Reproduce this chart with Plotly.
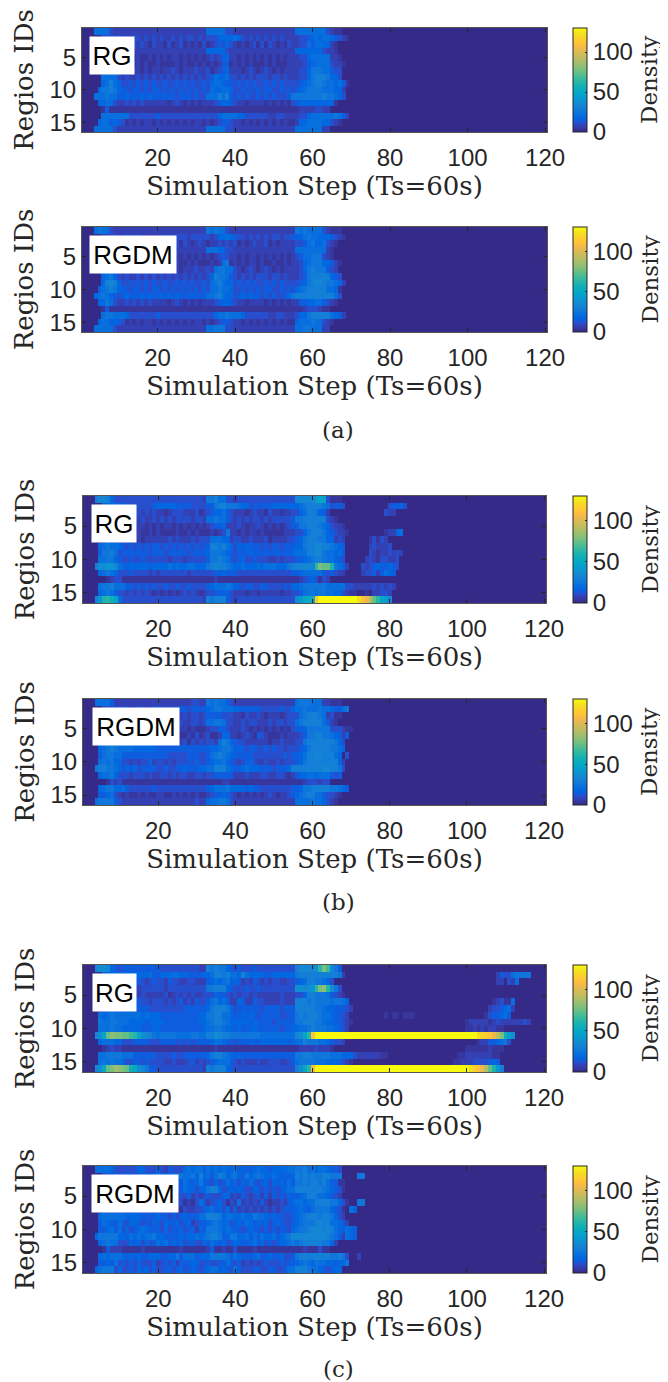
import plotly.graph_objects as go

W, H = 668, 1382
OFF = 8  # the page body holds the figure 8 px in from the window's corner

panel_names = ["RG", "RGDM", "RG", "RGDM", "RG", "RGDM"]
subfig_labels = ["(a)", "(b)", "(c)"]
x_ticks = [20, 40, 60, 80, 100, 120]
y_ticks = [5, 10, 15]
cbar_ticks = [0, 50, 100]
density_max = 130
level_count = 35

# Each row is a region, each character the density level of one simulation step
# (base-36 level, 0 = empty, z = full scale); steps past the end of a row are 0.
a_rg = [
 "0006666322 2222222222 2222222222 2266666332 2222222222 2222266666 6663211000",
 "0000033333 2323323232 3223232332 3233355556 5323232323 2322223345 6566543210",
 "0000022222 2313232132 2131231212 1312343532 1212313132 1213223364 6655210000",
 "0000022222 2222222222 2222222222 2255555322 2222222222 2222255555 5532210000",
 "0000012121 2121211212 1212212121 2123234522 1212121212 1212223356 6666221000",
 "0000011212 1211212112 1111212112 1212124412 1212111212 1112222345 6666322100",
 "0000022323 2212212122 1223212223 2231234522 2123212321 2122223357 7766433000",
 "0000066663 2322323232 3232323232 3234655633 2323233323 3232223357 8887553000",
 "0000056865 3343434343 3433434343 3435665443 4343433434 3433334567 8876656410",
 "0000577875 4434434344 3434343434 3436556653 3434343443 3434345677 7766655200",
 "0006667664 4544454544 4444344434 3366686843 4343343434 3334777777 7787765300",
 "0000556632 2323232222 2212321212 1222345543 2212222121 2121345555 5555510000",
 "0000014111 1111111111 1111111111 1111111111 1111111111 1111112222 3322000000",
 "0000066666 6633333334 3333333333 3333356666 5533333322 3322223356 6666676420",
 "0000566454 3121212212 1212121212 2121234432 2121212121 2121125566 6655321000",
 "0006666632 2222222222 2222222222 2266666332 2222222222 2222266666 6622000000",
]
a_rgdm = [
 "0006766322 2222222222 2222222222 2276766322 2222222222 2222276766 6632111000",
 "0000022332 2323322222 3232333233 3332355654 3323232323 3233445676 6555432100",
 "0000022222 2122321212 2121313212 3212232323 1212322312 1222233467 5563210000",
 "0000022222 2222222222 2222222222 2266655332 2222222222 2222266666 6662100000",
 "0000012121 2121221212 1221212121 2121234322 1212212121 2121234667 7732100000",
 "0000011212 1211212112 1111211212 1112126712 1212212112 1121223567 7755421000",
 "0000022323 2212212122 1223212223 2232677663 2123212321 2122223578 7774320000",
 "0000056753 2322323232 3232323232 3235877643 2323233323 3232223478 8888543000",
 "0000058985 3343434343 3433434343 3436786553 4343433434 3433334578 9987765200",
 "0000467875 4434434344 3434343434 3436676653 3434343443 3434356788 8886651000",
 "0005676543 4544454544 5454544454 4466786553 4545443434 3345788888 8888863000",
 "0000557632 2323232322 2212321212 1222345543 2212222121 2121224455 6643210000",
 "0000014111 1111111111 1111111111 1111111111 1111111111 1111111233 3211000000",
 "0000067766 6533333334 3333333333 3333566766 6533333322 3322235578 8888654200",
 "0000566454 3121212212 1212121212 2121234432 2121212121 2121156667 6632100000",
 "0006666632 2222222222 2222222222 2266777332 2222222222 2222266776 6622000000",
]
b_rg = [
 "0008998533 3333333333 3333333333 3277866332 3333333333 3333399999 cdd3111000",
 "0000055555 5333333345 5555444433 3344788777 6553444445 5555556788 8876344300 0000000003 44530",
 "0000022332 3323323232 2123332223 1234556432 2212322132 2122335688 7542000000 0000000032 2",
 "0000022322 2323232232 3232333323 3266766432 3232332323 3333477888 8883210000",
 "0000012121 2121221212 1221212121 2123445222 3212232121 2123447788 8765322100",
 "0000011212 1111211212 1111211212 1112123722 1212212111 1122233578 8875432210 0000000012 2560",
 "0000024423 2212212222 2232322232 3336665523 3223222312 2223345788 8775523200 0000131320",
 "0000567665 4343434344 3434343434 3448878653 5454443434 4344455788 9988765400 0000232223",
 "0000477863 4444444344 4344444344 4457776543 4445444444 4444566688 9976656400 0000321223 232",
 "0000667754 3343343333 3323332333 3347787643 4533433322 3233344567 8876654300 0002321332 23",
 "0008aabb96 5455555455 5565655665 5578988765 5655565666 5557899999 hlkkg76520 0032345445 43",
 "0000567653 3343333232 3333333233 3333445444 3333333333 3333445666 6643432200 0023342465 4",
 "0000001233 1111111111 1111111111 1111211111 1111111111 1111112345 3132000000",
 "0000677866 6443434343 3433433433 3345666765 4344334433 3343556777 7776666633 2222232323 2",
 "0000567643 3232323212 1212123232 1233445432 2212212222 2122334677 6776655321 1001022332",
 "0009bghfd6 3333333333 3333333333 3287888432 3333333333 33333abdef uzzzzzzzzz zxusokhdc9",
]
b_rgdm = [
 "0006666422 2222222222 2222222233 2276766432 2222222222 2222267776 6622111000",
 "0000033333 3322332334 3333344344 4456776665 5444443333 3433566766 6766544670",
 "0000022322 2211322323 2132223233 2344443332 2132232122 2123336788 8762311000",
 "0000022332 2232222322 3322232233 2366776332 2323322232 3323367888 8864210000",
 "0000012211 2121221212 1212122121 1123344322 2321212121 2121344577 7777333211",
 "0000011212 2121211222 1212111213 1231125522 1232143211 1212223477 8877654240",
 "0000022332 2212122122 2232123132 3233268754 3322222212 2322233788 8888875300",
 "0000567876 6665555554 4444444444 4445567764 5434433434 3323334578 8888776500",
 "0000467766 4444444444 4433333444 3346787654 4444333333 3343445688 9988865030",
 "0000676755 3323233523 3232333435 3345667543 2345322322 3233345788 8888885200",
 "0007887765 3545344443 3433445444 5566888654 4565554443 4445888888 8899887300",
 "0000566753 3323332322 3323233223 3233444442 2232223322 3321245566 5666434000",
 "0000001323 1111111111 1111111111 1111112211 1111111111 1111111233 3233000000",
 "0000567755 6433333343 3333333333 3345666755 5545443333 3333445778 8888776540",
 "0000445632 1211212112 2112121212 1123445432 1212121232 1223456788 6643321000",
 "0006777743 2222222222 2222222223 2256677632 2222222222 2222266667 6653210000",
]
Z = "zzzzzzzzzz"
c_rg = [
 "0009aa9543 4444444444 3333333333 2287877543 4333433333 3333389999 ahli974000",
 "0000055556 6655555644 5556655444 4556887866 5865555445 5555578888 8888887200 0000000000 0000000000 0000000000 0000000243 3677770000",
 "0000023334 3423432343 3243322332 2245656745 4232432323 3223345688 7765300000 0000000000 0000000000 0000000000 0000000220 3260000000",
 "0000023323 3323233333 3233333333 3377888543 3343343333 33333aa9ab hlmha73000",
 "0000023322 2222232222 2312323232 2333544323 2332322222 2322233588 7776432100",
 "0000034244 3423433233 3232342324 3346756422 5422433222 2322288878 7777677650 0000000000 0000000000 0000000000 0000001231 1600000000",
 "0000033434 4343444333 3333334444 4457888753 4444443444 4344488888 7765544432 0000000000 0000000000 0000000000 0000023345 6200000000",
 "0000656766 6666656555 4444444444 5577886654 4545434444 4334478788 8766544320 0000000010 1101110000 0000000000 0000134456 4000000000",
 "0000766776 6655554555 5444444444 5567887655 5554544443 4444477888 7765544321 0000000000 0000000000 0000000001 2222212322 2222320000",
 "0000666766 5555544455 4444444444 4566776554 5445544444 4344556678 7776654320 0000000000 0000000000 0000000001 1212122110",
 "0009adkmll kkihda9876 7777666677 6688a98877 7777776666 666669adhu " + Z + " " + Z + " " + Z + " " + Z + " zzxwvusplf ca00000000",
 "0000566655 3334444333 4444343434 4445665443 4445445555 5554566877 7665433200 0000000000 0000000000 0000000000 0012244567 3000000000",
 "0000012322 1111111111 1111111111 1111211111 1111111111 1111112222 3222100000 0000000000 0000000000 0000000001 1111121110",
 "0000667777 6664444443 3334334444 4457887654 5444444444 4444477887 7777666555 3222222110 0000000000 0000000112 2222221100",
 "0000676766 5334434333 3223222342 3234566643 2322232233 3223467777 6665554321 0000000000 0000000000 0000001122 2333345400",
 "0009aeklnm lkfea97443 3333333333 3287888543 3333333333 333338adht " + Z + " " + Z + " " + Z + " " + Z + " xvusokgb80",
]
c_rgdm = [
 "0006666533 3333553334 3243335656 6465656556 4544565545 5556677866 5665443000",
 "0000034353 4443444456 4456676675 8564687567 5475676556 5454587878 7788777000 0770000000",
 "0000032425 3545435335 3653546545 7543534645 3546434535 4546477878 8786441100",
 "0000023434 3343443432 3434346553 5578853454 5433543434 3456688888 8876543100",
 "0000033323 3242324322 3242133423 2343335523 2432342424 3435445688 7665432000",
 "0000021322 3232324232 1323131213 6423453132 6232324212 2324566566 8888775310 0770000000",
 "0000022333 2324232322 1314213223 3456453524 2323232323 2344456546 7777543106 5000000000",
 "0000566666 6555544445 4434345444 6688875665 5655766545 4433456788 8788753200",
 "0000465446 4355434354 3544534523 4456765534 5465454534 5433456777 8988665420",
 "0000445646 3534565444 3534453442 5477765654 4345443434 3443567789 9989865465 4000000000",
 "0005777775 5465656675 5444454556 5678874577 5564646556 4567999999 9998764265 4000000000",
 "0000567663 3354535346 5645453443 3546545345 5445645343 4556767888 8877520000",
 "0000014222 1111121111 1111121111 1124112113 1111211111 1111111211 1311000000",
 "0000565666 5454544555 4455746664 5557777646 5444564454 4533478888 8888778730 0200000000",
 "0000445463 4343533342 3434244455 3343344643 4232323433 3434456765 7665545570",
 "0005677735 3343545343 3443453454 3456645436 4333443344 3346688876 6543455000",
]
panels = [a_rg, a_rgdm, b_rg, b_rgdm, c_rg, c_rgdm]

parula = [
 (.2081,.1663,.5292),(.2116,.1898,.5777),(.2123,.2138,.6270),(.2081,.2386,.6771),(.1959,.2645,.7279),
 (.1707,.2919,.7792),(.1253,.3242,.8303),(.0591,.3598,.8683),(.0117,.3875,.8820),(.0060,.4086,.8828),
 (.0165,.4266,.8786),(.0329,.4430,.8720),(.0498,.4586,.8641),(.0629,.4737,.8554),(.0723,.4887,.8467),
 (.0779,.5040,.8384),(.0793,.5200,.8312),(.0749,.5375,.8263),(.0641,.5570,.8240),(.0488,.5772,.8228),
 (.0343,.5966,.8199),(.0265,.6137,.8135),(.0239,.6287,.8038),(.0231,.6418,.7913),(.0228,.6535,.7768),
 (.0267,.6642,.7607),(.0384,.6743,.7436),(.0590,.6838,.7254),(.0843,.6928,.7062),(.1133,.7015,.6859),
 (.1453,.7098,.6646),(.1801,.7177,.6424),(.2178,.7250,.6193),(.2586,.7317,.5954),(.3022,.7376,.5712),
 (.3482,.7424,.5473),(.3953,.7459,.5244),(.4420,.7481,.5033),(.4871,.7491,.4840),(.5300,.7491,.4661),
 (.5709,.7485,.4494),(.6099,.7473,.4337),(.6473,.7456,.4188),(.6834,.7435,.4044),(.7184,.7411,.3905),
 (.7525,.7384,.3768),(.7858,.7356,.3633),(.8185,.7327,.3498),(.8507,.7299,.3360),(.8824,.7274,.3217),
 (.9139,.7258,.3063),(.9450,.7261,.2886),(.9739,.7314,.2666),(.9938,.7455,.2403),(.9990,.7653,.2164),
 (.9955,.7861,.1967),(.9880,.8066,.1794),(.9789,.8271,.1633),(.9697,.8481,.1475),(.9626,.8705,.1309),
 (.9589,.8949,.1132),(.9598,.9218,.0948),(.9661,.9514,.0755),(.9763,.9831,.0538),
]
colorscale = [[i / 63, "rgb(%d,%d,%d)" % tuple(round(v * 255) for v in c)] for i, c in enumerate(parula)]


def decode(rows):
    out = []
    for r in rows:
        s = r.replace(" ", "").ljust(120, "0")[:120]
        out.append([int(ch, 36) * density_max / level_count for ch in s])
    return out


def X(px):
    return (px - OFF) / W


def Y(px):
    return 1 - (px - OFF) / H


# pixel geometry: left, right, top, bottom
boxes = [(82, 547, 28, 132), (82, 547, 227, 332), (83, 546, 496, 603),
         (83, 546, 699, 805), (83, 546, 965, 1072), (83, 546, 1166, 1273)]
label_boxes = [(89, 36, 44), (89, 235, 86), (91, 504, 44), (92, 707, 86), (92, 973, 43), (91, 1174, 86)]
cap_y = [430, 902, 1369]

SANS = "Liberation Sans"
SERIF = "DejaVu Serif"
INK = "#262626"

fig = go.Figure()
anns = []
layout = {}
cols = list(range(1, 121))
regions = list(range(1, 17))
for i, rows in enumerate(panels):
    l, r, t, b = boxes[i]
    n = "" if i == 0 else str(i + 1)
    fig.add_trace(go.Heatmap(
        z=decode(rows), x=cols, y=regions, xaxis=f"x{n}", yaxis=f"y{n}",
        colorscale=colorscale, zmin=0, zmax=density_max, zsmooth=False, hoverongaps=False,
        colorbar=dict(x=X(573), xanchor="left", xpad=0, ypad=0,
                      y=Y((t + b) / 2), yanchor="middle",
                      lenmode="pixels", len=b - t, thicknessmode="pixels", thickness=14,
                      outlinecolor=INK, outlinewidth=1, tickvals=cbar_ticks,
                      ticks="inside", ticklen=2, tickcolor=INK,
                      tickfont=dict(family=SANS, size=24, color=INK)),
    ))
    layout[f"xaxis{n}"] = dict(
        domain=[X(l), X(r)], range=[0.5, 120.5], tickvals=x_ticks, ticks="inside", ticklen=4,
        ticklabelstandoff=4,
        tickcolor=INK, showline=True, linecolor="#555555", linewidth=1, mirror="allticks",
        showgrid=False, zeroline=False, anchor=f"y{n}", tickfont=dict(family=SANS, size=24, color=INK),
        title=dict(text="Simulation Step (Ts=60s)", standoff=6, font=dict(family=SERIF, size=26, color=INK)))
    layout[f"yaxis{n}"] = dict(
        domain=[Y(b), Y(t)], range=[16.5, 0.5], tickvals=y_ticks, ticks="inside", ticklen=4,
        tickcolor=INK, showline=True, linecolor="#555555", linewidth=1, mirror="allticks",
        showgrid=False, zeroline=False, anchor=f"x{n}", tickfont=dict(family=SANS, size=24, color=INK),
        title=dict(text="Regios IDs", standoff=8, font=dict(family=SERIF, size=26, color=INK)))
    anns.append(dict(text="Density", textangle=-90, xref="paper", yref="paper", x=X(649),
                     y=Y((t + b) / 2), showarrow=False, xanchor="center", yanchor="middle",
                     font=dict(family=SERIF, size=23, color=INK)))
    lx, ly, lw = label_boxes[i]
    anns.append(dict(text=panel_names[i], xref="paper", yref="paper", x=X(lx), y=Y(ly),
                     xanchor="left", yanchor="top", showarrow=False, bgcolor="white", borderpad=0,
                     width=lw, height=37, align="center", valign="middle",
                     font=dict(family=SANS, size=26, color="black")))
for txt, y in zip(subfig_labels, cap_y):
    anns.append(dict(text=txt, xref="paper", yref="paper", x=X(338), y=Y(y), showarrow=False,
                     xanchor="center", yanchor="middle", font=dict(family=SERIF, size=23, color=INK)))

fig.update_layout(width=W, height=H, margin=dict(l=0, r=0, t=0, b=0, autoexpand=False),
                  paper_bgcolor="white", plot_bgcolor="white", annotations=anns, **layout)
fig.write_html("out.html")
